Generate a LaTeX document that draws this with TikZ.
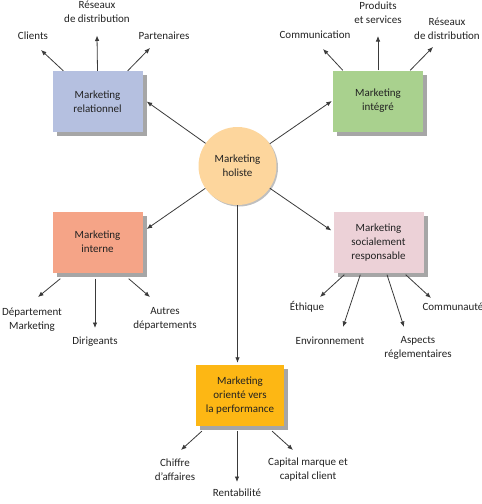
\documentclass[tikz,border=0pt]{standalone}
\usepackage{fontspec}
\setmainfont{Carlito}
\usetikzlibrary{shadows,arrows.meta}
\definecolor{cRel}{HTML}{B5C0E0}
\definecolor{cInt}{HTML}{A9D18E}
\definecolor{cInte}{HTML}{F5A487}
\definecolor{cSoc}{HTML}{ECD1D7}
\definecolor{cPerf}{HTML}{FDB714}
\definecolor{cHol}{HTML}{FDD69D}
\definecolor{cLine}{HTML}{3A3A3A}
\definecolor{cText}{HTML}{222222}
\tikzset{
  boxnode/.style={rectangle, minimum width=90pt, minimum height=61pt, align=center,
    font=\fontsize{11}{14}\selectfont, text=cText,
    drop shadow={shadow xshift=4pt, shadow yshift=-4pt, fill=gray!70, opacity=1}},
  holnode/.style={circle, minimum size=78pt, fill=cHol, align=center, inner sep=0pt,
    font=\fontsize{11}{14}\selectfont, text=cText,
    drop shadow={shadow xshift=1.5pt, shadow yshift=-1.5pt, fill=gray!50, opacity=1}},
  lbl/.style={align=center, inner sep=0pt, font=\fontsize{11}{14}\selectfont, text=cText},
  arr/.style={draw=cLine, line width=0.8pt, -{Latex[length=5.5pt,width=4.5pt]}}
}
\begin{document}
\begin{tikzpicture}[x=1pt,y=-1pt]
\useasboundingbox (0,0) rectangle (482,504);
% central circle
\node[holnode] (hol) at (237.5,166) {Marketing\\holiste};
% boxes
\node[boxnode, fill=cRel] (rel) at (97.5,101.5) {Marketing\\relationnel};
\node[boxnode, fill=cInt] (int) at (378,101) {Marketing\\intégré};
\node[boxnode, fill=cInte] (inte) at (97.5,242) {Marketing\\interne};
\node[boxnode, fill=cSoc] (soc) at (378.5,242.5) {Marketing\\socialement\\responsable};
\node[boxnode, fill=cPerf, minimum width=88pt] (perf) at (240,395.5) {Marketing\\orienté vers\\la performance};
% labels
\node[lbl] (cli) at (33,36) {Clients};
\node[lbl] (res1) at (97,11.5) {Réseaux\\de distribution};
\node[lbl] (par) at (164,36) {Partenaires};
\node[lbl] (com) at (315,35) {Communication};
\node[lbl] (prod) at (378,12.5) {Produits\\et services};
\node[lbl] (res2) at (447,29) {Réseaux\\de distribution};
\node[lbl] (dep) at (32,320) {Département\\Marketing};
\node[lbl] (dir) at (95,342) {Dirigeants};
\node[lbl] (aut) at (165,319) {Autres\\départements};
\node[lbl] (eth) at (307,307) {Éthique};
\node[lbl] (env) at (330,341) {Environnement};
\node[lbl] (asp) at (418,348) {Aspects\\réglementaires};
\node[lbl] (cmt) at (453,307) {Communauté};
\node[lbl] (chi) at (175,470) {Chiffre\\d'affaires};
\node[lbl] (ren) at (237,493) {Rentabilité};
\node[lbl] (cap) at (308,470) {Capital marque et\\capital client};
% circle to boxes
\draw[arr] (hol) -- ([xshift=4pt]rel.east);
\draw[arr] (hol) -- ([xshift=-1pt]int.west);
\draw[arr] (hol) -- ([xshift=4pt,yshift=13pt]inte.east);
\draw[arr] (hol) -- ([xshift=-2pt,yshift=12pt]soc.west);
\draw[arr] (hol.south) -- ([yshift=2pt]hol.south |- perf.north);
% relationnel
\draw[arr] ([shift={(11,0)}]rel.north west) -- ([shift={(8,14)}]cli.center);
\draw[arr] (rel.north) -- ([shift={(0,24)}]res1.center);
\draw[arr] ([shift={(-15,0)}]rel.north east) -- ([shift={(-14,12)}]par.center);
% integre
\draw[arr] ([shift={(10,0)}]int.north west) -- ([shift={(8,14)}]com.center);
\draw[arr] (int.north) -- ([shift={(0,23.5)}]prod.center);
\draw[arr] ([shift={(-13,0)}]int.north east) -- ([shift={(-14,18)}]res2.center);
% interne
\draw[arr] ([shift={(8,6)}]inte.south west) -- ([shift={(6,-23)}]dep.center);
\draw[arr] ([shift={(-2.5,6)}]inte.south) -- ([shift={(0,-14)}]dir.center);
\draw[arr] ([shift={(-14,6)}]inte.south east) -- ([shift={(-15,-22)}]aut.center);
% socialement
\draw[arr] ([shift={(11,1.5)}]soc.south west) -- ([shift={(13,-10)}]eth.center);
\draw[arr] ([shift={(27,1.5)}]soc.south west) -- ([shift={(13,-14)}]env.center);
\draw[arr] ([shift={(8.5,1.5)}]soc.south) -- ([shift={(-14,-21)}]asp.center);
\draw[arr] ([shift={(-18,1.5)}]soc.south east) -- ([shift={(-22,-9)}]cmt.center);
% performance
\draw[arr] ([shift={(6,5)}]perf.south west) -- ([shift={(6,-20)}]chi.center);
\draw[arr] ([shift={(-3,5)}]perf.south) -- ([shift={(0,-11)}]ren.center);
\draw[arr] ([shift={(-12,5)}]perf.south east) -- ([shift={(-15,-20)}]cap.center);
\end{tikzpicture}
\end{document}
